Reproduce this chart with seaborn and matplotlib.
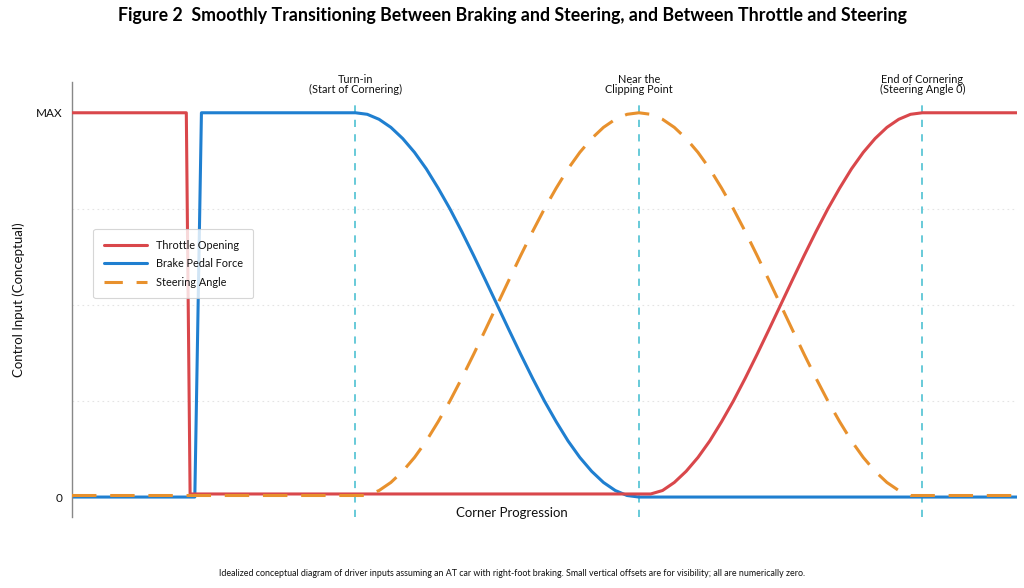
import numpy as np
import pandas as pd
import matplotlib
matplotlib.use("Agg")
import matplotlib.pyplot as plt
import seaborn as sns
from matplotlib.lines import Line2D

sns.set_style("white")
plt.rcParams['font.family'] = ['Lato', 'DejaVu Sans']
plt.rcParams['text.color'] = '#111111'
plt.rcParams['axes.labelcolor'] = '#111111'
plt.rcParams['ytick.color'] = '#111111'

# values (x = corner progression 0..10, y = fraction of MAX)
ramp_up = [0.0, 0.004, 0.017, 0.038, 0.067, 0.103, 0.146, 0.196, 0.25, 0.309, 0.371, 0.435, 0.5,
           0.565, 0.629, 0.691, 0.75, 0.804, 0.854, 0.897, 0.933, 0.962, 0.983, 0.996, 1.0]
ramp_x = [0.0, 0.125, 0.25, 0.375, 0.5, 0.625, 0.75, 0.875, 1.0, 1.125, 1.25, 1.375, 1.5,
          1.625, 1.75, 1.875, 2.0, 2.125, 2.25, 2.375, 2.5, 2.625, 2.75, 2.875, 3.0]

throttle_x = [0.0, 1.21, 1.25] + [6.0 + v for v in ramp_x] + [10.0]
throttle_y = [1.0, 1.0, 0.008] + [max(v, 0.008) for v in ramp_up] + [1.0]

brake_x = [0.0, 1.30, 1.37] + [3.0 + v for v in ramp_x] + [10.0]
brake_y = [0.0, 0.0, 1.0] + [1.0 - v for v in ramp_up] + [0.0]

steer_x = [0.0] + [3.0 + v for v in ramp_x] + [6.0 + v for v in ramp_x[1:]] + [10.0]
steer_y = [0.004] + [max(v, 0.004) for v in ramp_up] + [max(1.0 - v, 0.004) for v in ramp_up[1:]] + [0.004]

markers_x = [3.0, 6.0, 9.0]
markers_lbl = ["Turn-in\n(Start of Cornering)", "Near the\nClipping Point", "End of Cornering\n(Steering Angle 0)"]

series_names = ["Throttle Opening", "Brake Pedal Force", "Steering Angle"]
colors = ['#d9474b', '#1f7fd0', '#e8912d']

fig = plt.figure(figsize=(10.24, 5.88), dpi=100)
ax = fig.add_axes([0.0703, 0.1207, 0.9227, 0.7398])

# faint dotted grid
for g in [0.25, 0.5, 0.75]:
    ax.axhline(g, color='#e4e4e4', lw=0.8, ls=(0, (1.5, 3)), zorder=0)

# milestones
for mx, ml in zip(markers_x, markers_lbl):
    ax.axvline(mx, ymin=0, ymax=(1.02 + 0.052) / 1.132, color='#5cc6d6', lw=1.3,
               ls=(0, (4, 4)), zorder=1)
    ax.text(mx, 1.045, ml, ha='center', va='bottom', fontsize=7.8, linespacing=0.95)

sns.lineplot(x=throttle_x, y=throttle_y, ax=ax, color=colors[0], lw=2.2,
             sort=False, estimator=None, zorder=3)
sns.lineplot(x=brake_x, y=brake_y, ax=ax, color=colors[1], lw=2.2,
             sort=False, estimator=None, zorder=2)
sns.lineplot(x=steer_x, y=steer_y, ax=ax, color=colors[2], lw=2.2,
             linestyle=(0, (8, 4.5)), sort=False, estimator=None, zorder=4)

ax.set_xlim(0, 10)
ax.set_ylim(-0.052, 1.08)
ax.set_xticks([])
ax.set_yticks([0, 1])
ax.set_yticklabels(['0', 'MAX'], fontsize=8.5)
ax.tick_params(axis='y', length=0, pad=7)
ax.set_xlabel('')
ax.set_ylabel('Control Input (Conceptual)', fontsize=9.5, labelpad=8)

for s in ['top', 'right', 'bottom']:
    ax.spines[s].set_visible(False)
ax.spines['left'].set_color('#888888')
ax.spines['left'].set_linewidth(1.0)

fig.text(0.5, 1 - 513 / 588, 'Corner Progression', ha='center', va='center', fontsize=9.5)

handles = [
    Line2D([0], [0], color=colors[0], lw=2.2, label=series_names[0]),
    Line2D([0], [0], color=colors[1], lw=2.2, label=series_names[1]),
    Line2D([0], [0], color=colors[2], lw=2.2, ls=(0, (6, 4.5)), label=series_names[2]),
]
leg = ax.legend(handles=handles, loc='upper left', bbox_to_anchor=(0.017, 0.674),
                fontsize=7.8, frameon=True, handlelength=4.0, borderpad=0.95,
                labelspacing=0.7, handletextpad=0.8, fancybox=True)
leg.get_frame().set_edgecolor('#cccccc')
leg.get_frame().set_linewidth(0.8)

fig.text(0.5, 1 - 15 / 588, 'Figure 2  Smoothly Transitioning Between Braking and Steering, and Between Throttle and Steering',
         ha='center', va='center', fontsize=12.8, fontweight='bold', color='black')
fig.text(0.5, 1 - 574 / 588, 'Idealized conceptual diagram of driver inputs assuming an AT car with right-foot braking. Small vertical offsets are for visibility; all are numerically zero.',
         ha='center', va='center', fontsize=6.4)

fig.savefig('out.png', dpi=100)
